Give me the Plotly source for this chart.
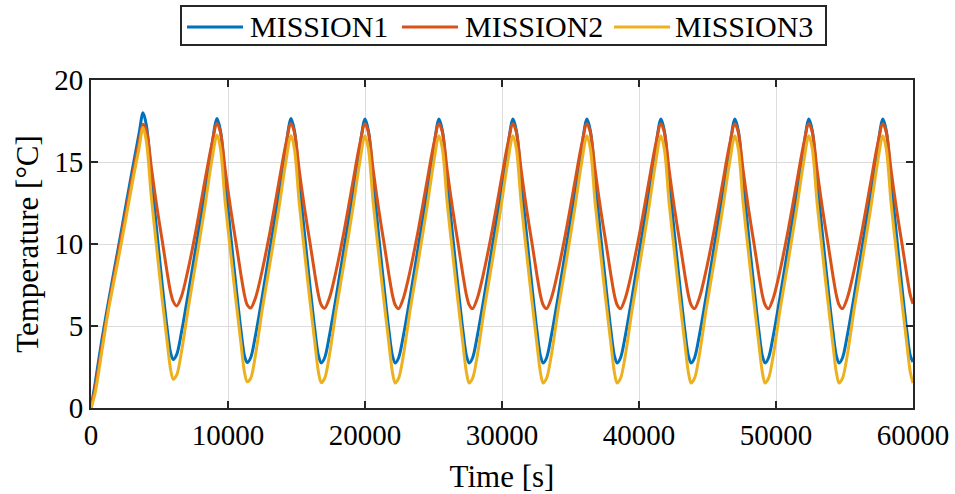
import plotly.graph_objects as go

# Sample times [s] shared by the three missions
time_s = [
    0, 300, 800, 1300, 2000, 2600, 3100, 3500,
    3800, 4050, 4400, 4800, 5200, 5550, 5800, 6000, 6250, 6600, 7100, 7700, 8300, 8800,
    9200, 9450, 9800, 10200, 10600, 10950, 11200, 11400, 11650, 12000, 12500, 13100, 13700, 14200,
    14600, 14850, 15200, 15600, 16000, 16350, 16600, 16800, 17050, 17400, 17900, 18500, 19100, 19600,
    20000, 20250, 20600, 21000, 21400, 21750, 22000, 22200, 22450, 22800, 23300, 23900, 24500, 25000,
    25400, 25650, 26000, 26400, 26800, 27150, 27400, 27600, 27850, 28200, 28700, 29300, 29900, 30400,
    30800, 31050, 31400, 31800, 32200, 32550, 32800, 33000, 33250, 33600, 34100, 34700, 35300, 35800,
    36200, 36450, 36800, 37200, 37600, 37950, 38200, 38400, 38650, 39000, 39500, 40100, 40700, 41200,
    41600, 41850, 42200, 42600, 43000, 43350, 43600, 43800, 44050, 44400, 44900, 45500, 46100, 46600,
    47000, 47250, 47600, 48000, 48400, 48750, 49000, 49200, 49450, 49800, 50300, 50900, 51500, 52000,
    52400, 52650, 53000, 53400, 53800, 54150, 54400, 54600, 54850, 55200, 55700, 56300, 56900, 57400,
    57800, 58050, 58400, 58800, 59200, 59550, 59800, 60000,
]

# Temperature [°C]
mission1 = [
    0, 1.5, 4.2, 6.6, 9.8, 12.6, 14.9, 16.7,
    18.0, 17.2, 14.2, 10.8, 7.5, 4.9, 3.4, 2.95, 3.25, 4.6, 7.0, 10.0, 13.1, 15.9,
    17.65, 16.9, 13.9, 10.5, 7.3, 4.7, 3.2, 2.77, 3.05, 4.4, 6.8, 9.9, 13.0, 15.8,
    17.65, 16.9, 13.9, 10.5, 7.3, 4.7, 3.2, 2.75, 3.05, 4.4, 6.8, 9.9, 13.0, 15.8,
    17.62, 16.9, 13.9, 10.5, 7.3, 4.7, 3.2, 2.74, 3.05, 4.4, 6.8, 9.9, 13.0, 15.8,
    17.62, 16.9, 13.9, 10.5, 7.3, 4.7, 3.2, 2.74, 3.05, 4.4, 6.8, 9.9, 13.0, 15.8,
    17.62, 16.9, 13.9, 10.5, 7.3, 4.7, 3.2, 2.74, 3.05, 4.4, 6.8, 9.9, 13.0, 15.8,
    17.62, 16.9, 13.9, 10.5, 7.3, 4.7, 3.2, 2.74, 3.05, 4.4, 6.8, 9.9, 13.0, 15.8,
    17.62, 16.9, 13.9, 10.5, 7.3, 4.7, 3.2, 2.74, 3.05, 4.4, 6.8, 9.9, 13.0, 15.8,
    17.62, 16.9, 13.9, 10.5, 7.3, 4.7, 3.2, 2.74, 3.05, 4.4, 6.8, 9.9, 13.0, 15.8,
    17.62, 16.9, 13.9, 10.5, 7.3, 4.7, 3.2, 2.74, 3.05, 4.4, 6.8, 9.9, 13.0, 15.8,
    17.62, 16.9, 13.9, 10.5, 7.3, 4.7, 3.2, 2.8,
]

mission2 = [
    0, 1.2, 3.8, 6.3, 9.5, 12.2, 14.5, 16.2,
    17.3, 16.9, 14.7, 12.3, 10.2, 8.3, 7.1, 6.5, 6.22, 6.8, 8.5, 11.0, 13.8, 16.0,
    17.35, 16.8, 14.5, 12.1, 10.0, 8.1, 6.9, 6.3, 6.1, 6.7, 8.4, 10.9, 13.7, 16.0,
    17.35, 16.8, 14.5, 12.1, 10.0, 8.1, 6.9, 6.3, 6.08, 6.7, 8.4, 10.9, 13.7, 16.0,
    17.33, 16.8, 14.5, 12.1, 10.0, 8.1, 6.9, 6.3, 6.06, 6.7, 8.4, 10.9, 13.7, 16.0,
    17.33, 16.8, 14.5, 12.1, 10.0, 8.1, 6.9, 6.3, 6.06, 6.7, 8.4, 10.9, 13.7, 16.0,
    17.33, 16.8, 14.5, 12.1, 10.0, 8.1, 6.9, 6.3, 6.06, 6.7, 8.4, 10.9, 13.7, 16.0,
    17.33, 16.8, 14.5, 12.1, 10.0, 8.1, 6.9, 6.3, 6.06, 6.7, 8.4, 10.9, 13.7, 16.0,
    17.33, 16.8, 14.5, 12.1, 10.0, 8.1, 6.9, 6.3, 6.06, 6.7, 8.4, 10.9, 13.7, 16.0,
    17.33, 16.8, 14.5, 12.1, 10.0, 8.1, 6.9, 6.3, 6.06, 6.7, 8.4, 10.9, 13.7, 16.0,
    17.33, 16.8, 14.5, 12.1, 10.0, 8.1, 6.9, 6.3, 6.06, 6.7, 8.4, 10.9, 13.7, 16.0,
    17.33, 16.8, 14.5, 12.1, 10.0, 8.1, 6.9, 6.35,
]

mission3 = [
    0, 0.9, 3.5, 6.1, 9.1, 11.8, 14.1, 15.8,
    17.1, 16.2, 12.9, 9.7, 6.6, 4.1, 2.4, 1.75, 2.0, 3.4, 6.1, 9.1, 12.2, 15.0,
    16.65, 15.8, 12.5, 9.4, 6.4, 3.9, 2.2, 1.6, 1.8, 3.2, 6.0, 9.0, 12.1, 14.9,
    16.62, 15.8, 12.5, 9.4, 6.4, 3.9, 2.2, 1.55, 1.8, 3.2, 6.0, 9.0, 12.1, 14.9,
    16.6, 15.8, 12.5, 9.4, 6.4, 3.9, 2.2, 1.52, 1.8, 3.2, 6.0, 9.0, 12.1, 14.9,
    16.6, 15.8, 12.5, 9.4, 6.4, 3.9, 2.2, 1.52, 1.8, 3.2, 6.0, 9.0, 12.1, 14.9,
    16.6, 15.8, 12.5, 9.4, 6.4, 3.9, 2.2, 1.52, 1.8, 3.2, 6.0, 9.0, 12.1, 14.9,
    16.6, 15.8, 12.5, 9.4, 6.4, 3.9, 2.2, 1.52, 1.8, 3.2, 6.0, 9.0, 12.1, 14.9,
    16.6, 15.8, 12.5, 9.4, 6.4, 3.9, 2.2, 1.52, 1.8, 3.2, 6.0, 9.0, 12.1, 14.9,
    16.6, 15.8, 12.5, 9.4, 6.4, 3.9, 2.2, 1.52, 1.8, 3.2, 6.0, 9.0, 12.1, 14.9,
    16.6, 15.8, 12.5, 9.4, 6.4, 3.9, 2.2, 1.52, 1.8, 3.2, 6.0, 9.0, 12.1, 14.9,
    16.6, 15.8, 12.5, 9.4, 6.4, 3.9, 2.2, 1.52,
]

series_names = ["MISSION1", "MISSION2", "MISSION3"]
series_colors = ["#0072BD", "#D95319", "#EDB120"]

x_ticks = [0, 10000, 20000, 30000, 40000, 50000, 60000]
y_ticks = [0, 5, 10, 15, 20]

FONT = "Liberation Serif, Times New Roman, serif"
AXIS_COLOR = "#262626"

W, H = 955, 494
M_L, M_R, M_T, M_B = 91, 42, 80, 86
PLOT_W = W - M_L - M_R
PLOT_H = H - M_T - M_B


def px_to_paper(px, py):
    """Convert page pixels to paper coordinates of the plotting area."""
    return (px - M_L) / PLOT_W, (H - M_B - py) / PLOT_H


fig = go.Figure()
for name, color, values in zip(series_names, series_colors, [mission1, mission2, mission3]):
    fig.add_trace(go.Scatter(
        x=time_s, y=values, mode="lines", name=name, showlegend=False,
        line=dict(color=color, width=3, shape="spline", smoothing=0.9),
    ))

axis_common = dict(
    showline=True, linecolor=AXIS_COLOR, linewidth=2,
    mirror="ticks", ticks="inside", ticklen=7, tickwidth=2, tickcolor=AXIS_COLOR,
    showgrid=True, gridcolor="#dcdcdc", gridwidth=1,
    zeroline=False, automargin=False,
    tickfont=dict(family=FONT, size=29, color="#000000"),
)

fig.update_xaxes(
    range=[0, 60000], tickvals=x_ticks, ticktext=[str(v) for v in x_ticks],
    title=dict(text="Time [s]", font=dict(family=FONT, size=31, color="#000000"), standoff=19),
    **axis_common,
)
fig.update_yaxes(
    range=[0, 20], tickvals=y_ticks, ticktext=[str(v) for v in y_ticks],
    title=dict(text="Temperature [°C]", font=dict(family=FONT, size=31, color="#000000"), standoff=6),
    **axis_common,
)

# Boxed horizontal legend above the axes
shapes = []
annotations = []
bx0, by0 = px_to_paper(181, 45)
bx1, by1 = px_to_paper(826, 6)
shapes.append(dict(type="rect", xref="paper", yref="paper", x0=bx0, y0=by0, x1=bx1, y1=by1,
                   line=dict(color=AXIS_COLOR, width=2), fillcolor="white", layer="above"))
legend_line_x = [187, 402, 614]
legend_text_x = [248, 463, 673]
for name, color, lx, tx in zip(series_names, series_colors, legend_line_x, legend_text_x):
    lx0, ly = px_to_paper(lx, 27)
    lx1, _ = px_to_paper(lx + 56, 27)
    shapes.append(dict(type="line", xref="paper", yref="paper", x0=lx0, y0=ly, x1=lx1, y1=ly,
                       line=dict(color=color, width=3), layer="above"))
    ax, ay = px_to_paper(tx, 27)
    annotations.append(dict(xref="paper", yref="paper", x=ax, y=ay, xanchor="left", yanchor="middle",
                            text=name, showarrow=False,
                            font=dict(family=FONT, size=30, color="#000000")))

fig.update_layout(
    width=W, height=H,
    margin=dict(l=M_L, r=M_R, t=M_T, b=M_B),
    paper_bgcolor="white", plot_bgcolor="white",
    shapes=shapes, annotations=annotations,
)

fig.write_html("out.html")
